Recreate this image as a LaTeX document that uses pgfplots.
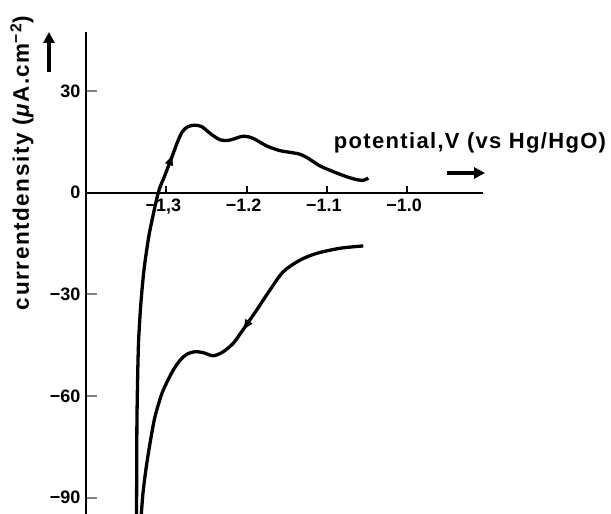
\documentclass[border=0pt]{standalone}
\usepackage{pgfplots}
\pgfplotsset{compat=1.18}
\usetikzlibrary{decorations.markings,arrows.meta}
\usepackage{fontspec}
\setmainfont{Liberation Sans}
\begin{document}
\begin{tikzpicture}
\begin{axis}[
  x=803pt, y=3.39pt,
  xmin=-1.4, xmax=-0.905, ymin=-94.78, ymax=47.4,
  axis x line=middle, axis y line=left,
  axis line style={line width=2.2pt, -},
  hide obscured x ticks=false, hide obscured y ticks=false,
  clip=false,
  xtick={-1.3,-1.2,-1.1,-1.0},
  xticklabels={{−1,3},{−1.2},{−1.1},{−1.0}},
  ytick={-90,-60,-30,0,30},
  yticklabels={{−90},{−60},{−30},{0},{30}},
  xtick style={draw=none},
  ytick style={line width=2pt},
  tick align=inside,
  major tick length=11pt,
  ticklabel style={font=\fontsize{18}{18}\selectfont\bfseries},
  xticklabel style={anchor=north, yshift=-3pt, xshift=-3pt},
  yticklabel style={anchor=east, xshift=-2pt},
]
\addplot[line width=3.3pt, smooth, tension=0.5,
  postaction={decorate},
  decoration={markings, mark=at position 365pt with {\arrow{Latex[length=12pt,width=9pt]}}}]
  coordinates {
(-1.3371,-94.8) (-1.3369,-85.6) (-1.3365,-66.2) (-1.3349,-46.4) (-1.3328,-36.6)
(-1.3306,-29.6) (-1.3278,-22.8) (-1.3244,-16.9) (-1.3203,-11.0) (-1.3100,0)
(-1.3016,5.2) (-1.2913,11.6) (-1.2860,15.0) (-1.2800,18.0) (-1.2730,19.5)
(-1.2643,19.9) (-1.2560,19.5) (-1.2480,18.0) (-1.2415,16.8) (-1.2330,15.6)
(-1.2240,15.4) (-1.2166,15.8) (-1.2060,16.6) (-1.1980,16.5) (-1.1900,15.8)
(-1.1750,13.8) (-1.1584,12.4) (-1.1430,11.8) (-1.1330,11.3) (-1.1230,10.1)
(-1.1086,7.9) (-1.0920,6.2) (-1.0753,4.7) (-1.0620,3.8) (-1.0540,3.7) (-1.0484,4.3)
};
\addplot[line width=3.3pt, smooth, tension=0.5,
  postaction={decorate},
  decoration={markings, mark=at position 158pt with {\arrow{Latex[open,length=12pt,width=9pt,line width=1.4pt]}}}]
  coordinates {
(-1.0547,-15.7) (-1.0837,-16.4) (-1.1127,-17.9) (-1.1335,-19.9) (-1.1543,-23.3)
(-1.1709,-28.7) (-1.1874,-34.6) (-1.2061,-41.0) (-1.2166,-44.4) (-1.2290,-46.9)
(-1.2415,-48.1) (-1.2539,-47.2) (-1.2643,-46.9) (-1.2740,-47.6) (-1.2820,-49.2)
(-1.2900,-51.8) (-1.2980,-55.3) (-1.3060,-59.6) (-1.3141,-66.1) (-1.3200,-73.5)
(-1.3250,-81.0) (-1.3290,-88.5) (-1.3311,-94.8)
};
% x ticks (upward)
\draw[line width=2pt] (axis cs:-1.3,0) -- (axis cs:-1.3,2.0);
\draw[line width=2pt] (axis cs:-1.2,0) -- (axis cs:-1.2,2.0);
\draw[line width=2pt] (axis cs:-1.1,0) -- (axis cs:-1.1,2.0);
\draw[line width=2pt] (axis cs:-1.0,0) -- (axis cs:-1.0,2.0);
% axis labels and arrows
\node[font=\fontsize{22}{22}\selectfont\bfseries\addfontfeatures{LetterSpace=6}]
  at (axis cs:-0.9218,14.66) {potential,V (vs Hg/HgO)};
\draw[line width=3.6pt, -{Triangle[length=11pt,width=11pt]}] (axis cs:-0.9504,5.81) -- (axis cs:-0.9031,5.81);
\node[rotate=90, font=\fontsize{22.5}{22.5}\selectfont\bfseries\addfontfeatures{LetterSpace=7}]
  at (axis cs:-1.4797,8.76) {currentdensity (\textit{μ}A.cm\textsuperscript{−2})};
\draw[line width=3.6pt, -{Triangle[length=11pt,width=11pt]}] (axis cs:-1.4461,35.6) -- (axis cs:-1.4461,47.4);
\coordinate (bbA) at (axis cs:-1.5071,56.84);
\coordinate (bbB) at (axis cs:-0.7462,-94.78);
\end{axis}
\pgfresetboundingbox
\useasboundingbox (bbA) rectangle (bbB);
\end{tikzpicture}
\end{document}
